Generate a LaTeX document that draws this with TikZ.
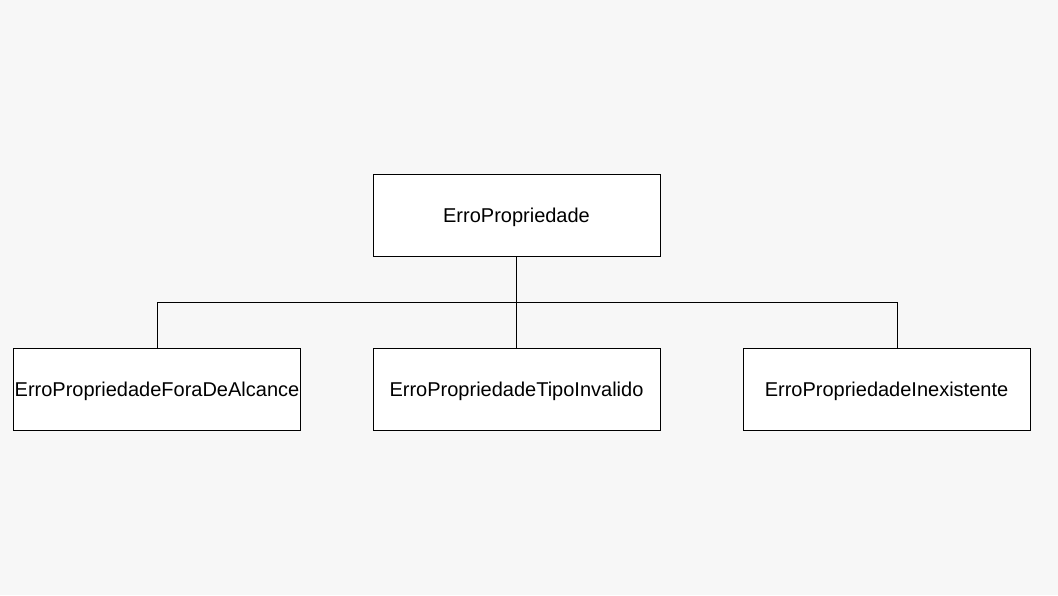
\documentclass[tikz,border=0pt]{standalone}
\usepackage{fontspec}
\setmainfont{Liberation Sans}
\usepackage{tikz}
\definecolor{fundo}{HTML}{F7F7F7}

\begin{document}
\begin{tikzpicture}
		[
		x=1pt, y=-1pt,
		classe/.style = {draw=black, fill=white, line width=1pt, minimum width=287pt, minimum height=82pt, inner sep=0pt, text height=14pt, text depth=0pt, font=\fontsize{20}{24}\selectfont},
		ligacao/.style = {black, line width=1pt}
		]
		
		\fill[fundo] (0,0) rectangle (1058,595);
		\useasboundingbox (0,0) rectangle (1058,595);
		
		\node[classe] (erro) at (516.5,215) {ErroPropriedade};
		\node[classe] (fora) at (157,389.5) {ErroPropriedadeForaDeAlcance};
		\node[classe] (tipo) at (516.5,389.5) {ErroPropriedadeTipoInvalido};
		\node[classe] (inex) at (886.5,389.5) {ErroPropriedadeInexistente};
		
		\coordinate (juncao) at (897,302);
		
		\draw[ligacao] (erro.south) -- (tipo.north);
		\draw[ligacao] (fora.north) |- (juncao) -- (juncao |- inex.north);
		
		\end{tikzpicture}
\end{document}
